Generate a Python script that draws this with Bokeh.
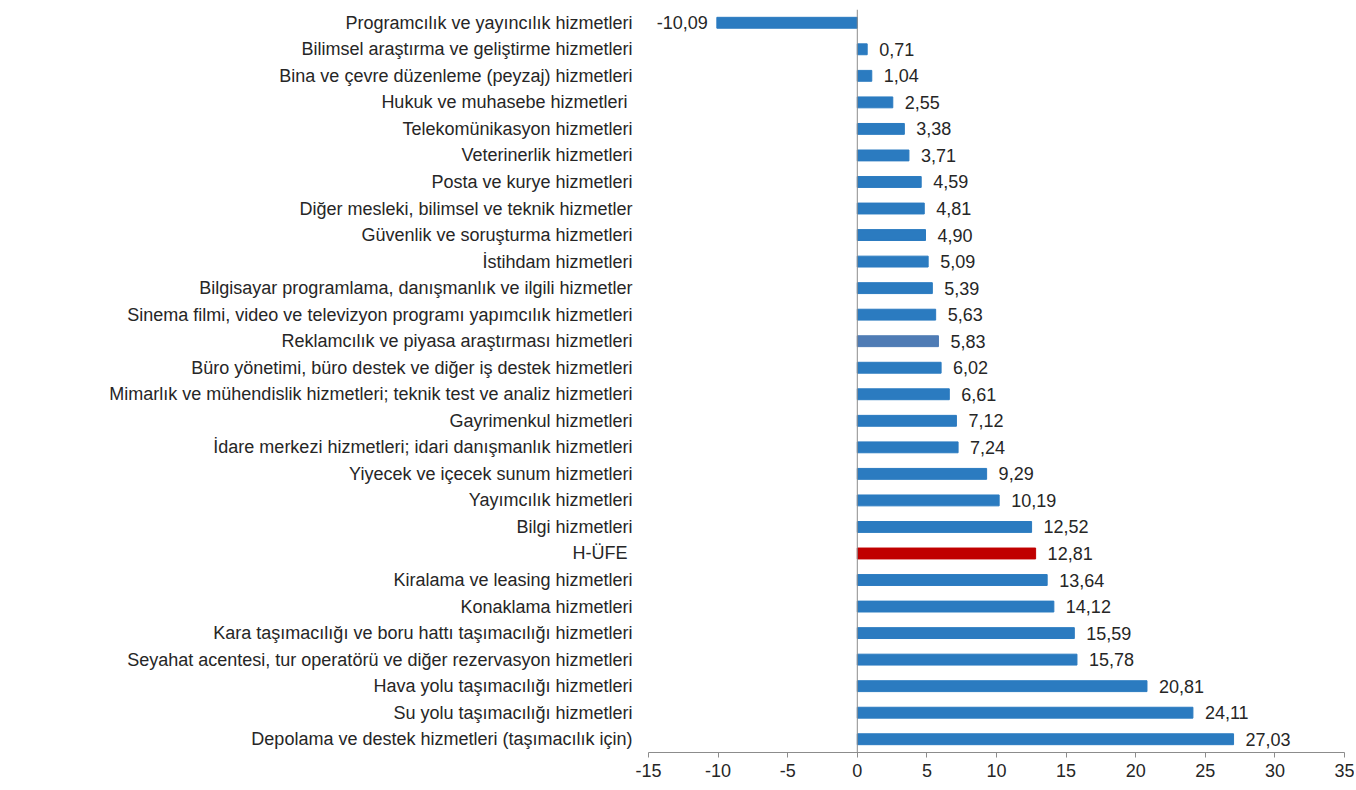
from bokeh.plotting import figure
from bokeh.models import ColumnDataSource, FactorRange, Span, FixedTicker, Range1d, PrintfTickFormatter
from bokeh.core.properties import value
from bokeh.embed import file_html
from bokeh.resources import INLINE

categories = [
    "Programcılık ve yayıncılık hizmetleri",
    "Bilimsel araştırma ve geliştirme hizmetleri",
    "Bina ve çevre düzenleme (peyzaj) hizmetleri",
    "Hukuk ve muhasebe hizmetleri ",
    "Telekomünikasyon hizmetleri",
    "Veterinerlik hizmetleri",
    "Posta ve kurye hizmetleri",
    "Diğer mesleki, bilimsel ve teknik hizmetler",
    "Güvenlik ve soruşturma hizmetleri",
    "İstihdam hizmetleri",
    "Bilgisayar programlama, danışmanlık ve ilgili hizmetler",
    "Sinema filmi, video ve televizyon programı yapımcılık hizmetleri",
    "Reklamcılık ve piyasa araştırması hizmetleri",
    "Büro yönetimi, büro destek ve diğer iş destek hizmetleri",
    "Mimarlık ve mühendislik hizmetleri; teknik test ve analiz hizmetleri",
    "Gayrimenkul hizmetleri",
    "İdare merkezi hizmetleri; idari danışmanlık hizmetleri",
    "Yiyecek ve içecek sunum hizmetleri",
    "Yayımcılık hizmetleri",
    "Bilgi hizmetleri",
    "H-ÜFE ",
    "Kiralama ve leasing hizmetleri",
    "Konaklama hizmetleri",
    "Kara taşımacılığı ve boru hattı taşımacılığı hizmetleri",
    "Seyahat acentesi, tur operatörü ve diğer rezervasyon hizmetleri",
    "Hava yolu taşımacılığı hizmetleri",
    "Su yolu taşımacılığı hizmetleri",
    "Depolama ve destek hizmetleri (taşımacılık için)",
]
values = [-10.09, 0.71, 1.04, 2.55, 3.38, 3.71, 4.59, 4.81, 4.90, 5.09, 5.39, 5.63,
          5.83, 6.02, 6.61, 7.12, 7.24, 9.29, 10.19, 12.52, 12.81, 13.64, 14.12,
          15.59, 15.78, 20.81, 24.11, 27.03]
x_ticks = [-15, -10, -5, 0, 5, 10, 15, 20, 25, 30, 35]

BLUE = "#2B7BC0"
colors = []
for c in categories:
    if c.startswith("H-ÜFE"):
        colors.append("#C00000")
    elif c.startswith("Reklamcılık"):
        colors.append("#4F7CB5")
    else:
        colors.append(BLUE)

labels = [f"{v:.2f}".replace(".", ",") for v in values]
aligns = ["right" if v < 0 else "left" for v in values]
offsets = [-9 if v < 0 else 12 for v in values]

src = ColumnDataSource(dict(cat=categories, val=values, color=colors,
                            label=labels, align=aligns, off=offsets))

FONT = "Liberation Sans"
FS = "18px"

p = figure(width=1354, height=779, output_backend="svg", toolbar_location=None,
           y_range=FactorRange(*list(reversed(categories)), range_padding=0),
           x_range=Range1d(-15, 35),
           min_border_left=648, min_border_right=10, min_border_top=9,
           min_border_bottom=0)

p.hbar(y="cat", right="val", left=0, height=0.41, color="color", source=src)

p.text(x="val", y="cat", text="label", text_align="align", x_offset="off",
       text_baseline="middle", text_font=value(FONT), text_font_size=FS,
       text_color="#262626", source=src)

p.add_layout(Span(location=0, dimension="height", line_color="#8C8C8C", line_width=1))

p.xgrid.grid_line_color = None
p.ygrid.grid_line_color = None
p.outline_line_color = None

xa = p.xaxis[0]
xa.ticker = FixedTicker(ticks=x_ticks)
xa.formatter = PrintfTickFormatter(format="%d")
xa.minor_tick_line_color = None
xa.axis_line_color = "#8C8C8C"
xa.major_tick_line_color = "#8C8C8C"
xa.major_tick_in = 0
xa.major_tick_out = 5
xa.major_label_text_font = FONT
xa.major_label_text_font_size = FS
xa.major_label_text_color = "#262626"
xa.major_label_standoff = 6

ya = p.yaxis[0]
ya.axis_line_color = None
ya.major_tick_line_color = None
ya.minor_tick_line_color = None
ya.major_tick_out = 0
ya.major_tick_in = 0
ya.major_label_standoff = 16
ya.major_label_text_font = FONT
ya.major_label_text_font_size = FS
ya.major_label_text_color = "#262626"

open("out.html", "w").write(file_html(p, INLINE))
